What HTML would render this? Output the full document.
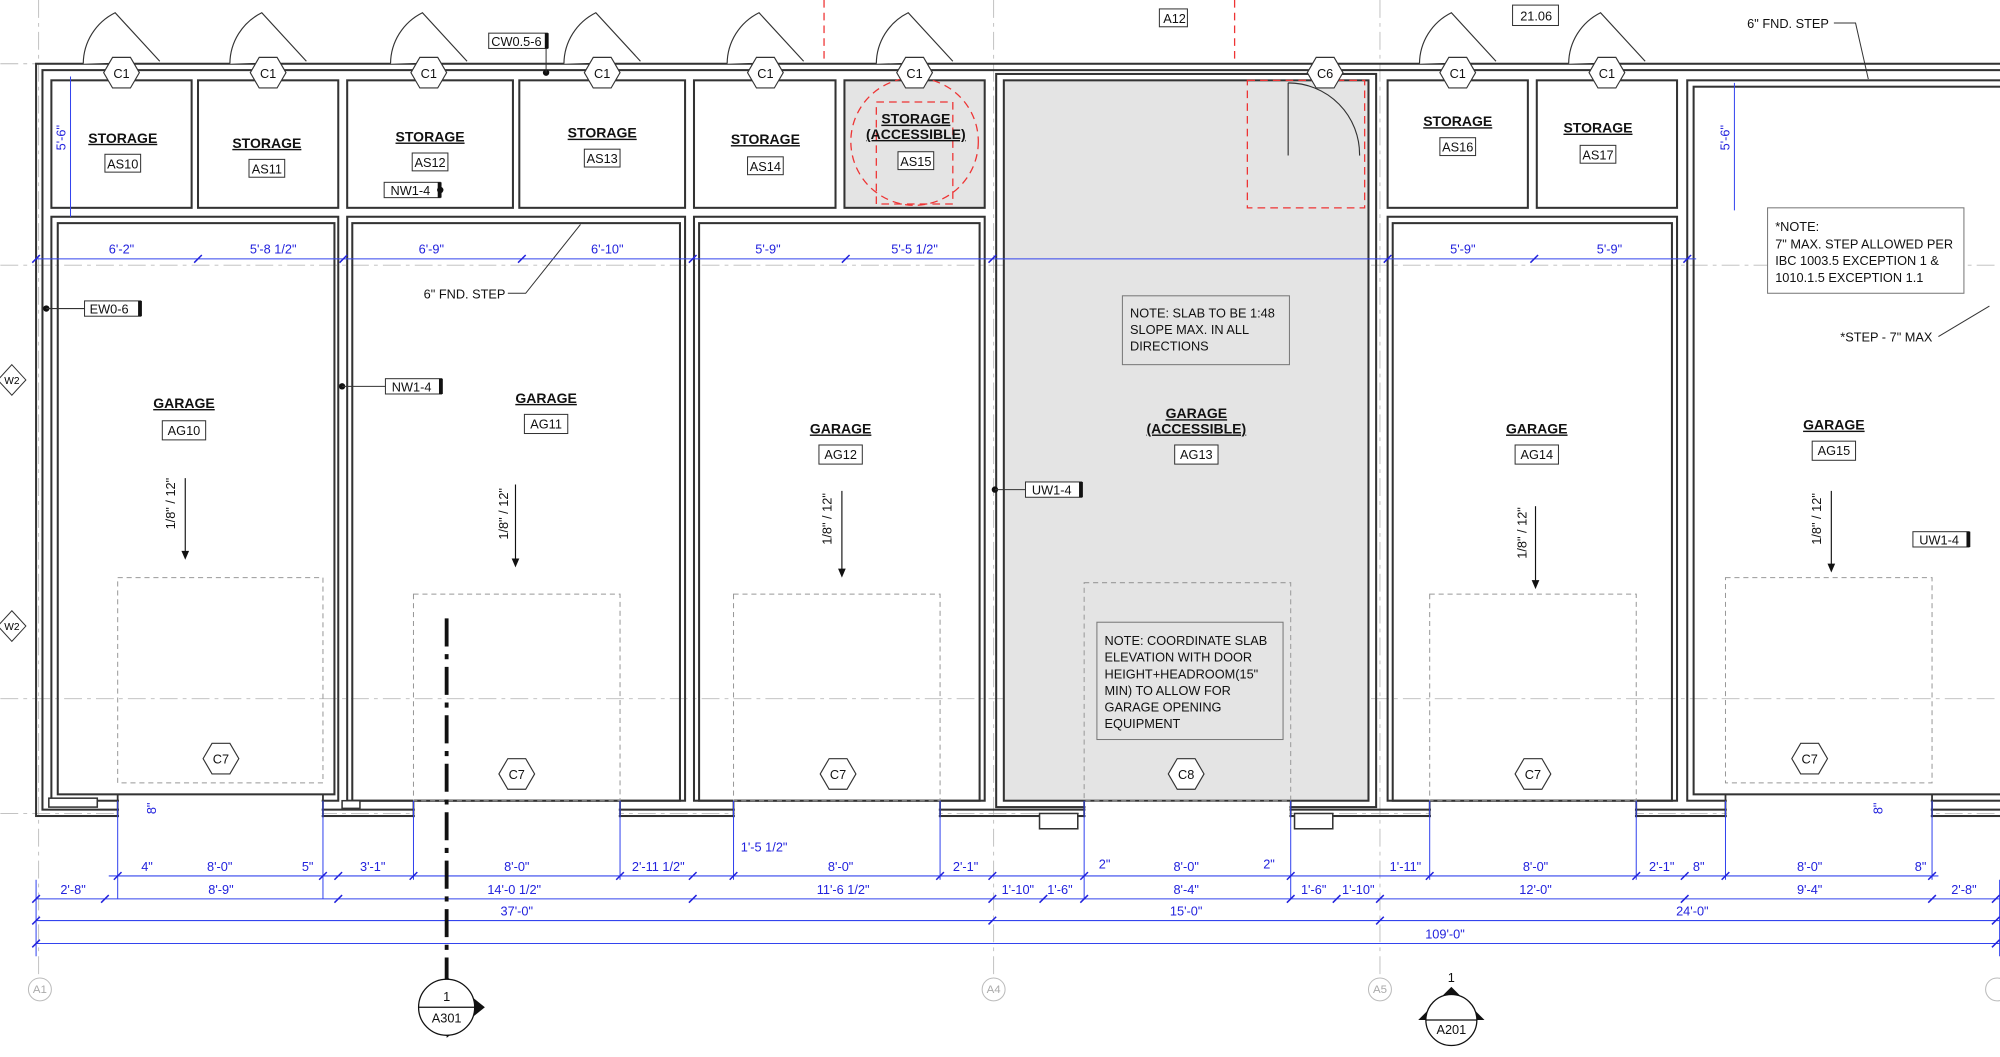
<!DOCTYPE html>
<html><head><meta charset="utf-8"><style>
html,body{margin:0;padding:0;background:#fff;}
svg{display:block;}
text{font-family:"Liberation Sans",sans-serif;}
.w{fill:none;stroke:#333;stroke-width:1.6}
.b{fill:#2222dd;font-size:10px;text-anchor:middle}
.bl{stroke:#3344ee;stroke-width:0.8;fill:none}
.g{stroke:#bbb;stroke-width:0.7;stroke-dasharray:14 4 3 4;fill:none}
.d{stroke:#999;stroke-width:0.8;stroke-dasharray:4 3;fill:none}
.rn{font-size:11px;font-weight:bold;text-anchor:middle;text-decoration:underline;fill:#111}
.tag{fill:#fff;stroke:#333;stroke-width:0.8}
.t{font-size:10px;text-anchor:middle;fill:#111}
.n{font-size:10px;fill:#111}
</style></head><body>
<svg width="2000" height="1057" viewBox="0 0 1568 829" xmlns="http://www.w3.org/2000/svg">
<defs>
<g id="hex"><polygon points="-14,0 -7,-12 7,-12 14,0 7,12 -7,12" fill="#fff" stroke="#333" stroke-width="0.9"/></g>
</defs>
<line class="g" x1="0" y1="50" x2="1568" y2="50"/>
<line class="g" x1="0" y1="208" x2="1568" y2="208"/>
<line class="g" x1="0" y1="548" x2="1568" y2="548"/>
<line class="g" x1="0" y1="638" x2="1568" y2="638"/>
<line class="g" x1="30" y1="0" x2="30" y2="765"/>
<line class="g" x1="779" y1="0" x2="779" y2="765"/>
<line class="g" x1="1082" y1="0" x2="1082" y2="765"/>
<rect x="662" y="63" width="110" height="100" fill="#e4e4e4"/>
<rect x="787" y="63" width="286" height="565" fill="#e4e4e4"/>
<rect class="w" x="28" y="50" width="1545" height="590"/>
<rect class="w" x="33" y="55" width="1540" height="580"/>
<g class="w">
<rect x="40" y="63" width="110" height="100"/><rect x="155" y="63" width="110" height="100"/>
<rect x="272" y="63" width="130" height="100"/><rect x="407" y="63" width="130" height="100"/>
<rect x="544" y="63" width="111" height="100"/><rect x="662" y="63" width="110" height="100"/>
<rect x="1088" y="63" width="110" height="100"/><rect x="1205" y="63" width="110" height="100"/>
<rect x="40" y="170" width="225" height="458"/><rect x="45" y="175" width="217" height="448"/>
<rect x="272" y="170" width="265" height="458"/><rect x="276" y="175" width="257" height="453"/>
<rect x="544" y="170" width="228" height="458"/><rect x="548" y="175" width="220" height="453"/>
<rect x="787" y="63" width="286" height="565"/><rect x="781" y="58" width="298" height="575"/>
<rect x="1088" y="170" width="227" height="458"/><rect x="1092" y="175" width="219" height="453"/>
<rect x="1323" y="63" width="250" height="565"/><rect x="1328" y="68" width="245" height="555"/>
</g>
<!-- bottom openings: gaps in wall with jambs -->
<g fill="#fff" stroke="none">
<rect x="93" y="624" width="159" height="18"/><rect x="325" y="629" width="160" height="13"/>
<rect x="576" y="629" width="160" height="13"/><rect x="851" y="629" width="160" height="13"/>
<rect x="1122" y="629" width="160" height="13"/><rect x="1354" y="624" width="160" height="18"/>
</g>
<g stroke="#333" stroke-width="1.4">
<path d="M92 623 V641 M253 623 V641 M324 628 V641 M486 628 V641 M575 628 V641 M737 628 V641 M850 628 V641 M1012 628 V641 M1121 628 V641 M1283 628 V641 M1353 623 V641 M1515 623 V641"/>
</g>
<g fill="#fff" stroke="#333" stroke-width="1.2">
<rect x="815" y="638" width="30" height="12"/><rect x="1015" y="638" width="30" height="12"/>
<rect x="38" y="626" width="38" height="7"/><rect x="268" y="628" width="14" height="6"/>
</g>
<g fill="#fff" stroke="#333" stroke-width="0.9">
<path d="M65 50 A45 45 0 0 1 90 10 L125 48"/><path d="M180 50 A45 45 0 0 1 205 10 L240 48"/>
<path d="M306 50 A45 45 0 0 1 331 10 L366 48"/><path d="M442 50 A45 45 0 0 1 467 10 L502 48"/>
<path d="M570 50 A45 45 0 0 1 595 10 L630 48"/><path d="M687 50 A45 45 0 0 1 712 10 L747 48"/>
<path d="M1113 50 A45 45 0 0 1 1138 10 L1173 48"/><path d="M1230 50 A45 45 0 0 1 1255 10 L1290 48"/>
<path d="M1010 65 L1010 122 M1066 122 A56 56 0 0 0 1010 65" fill="none"/>
</g>
<g stroke="#e33" stroke-width="1" stroke-dasharray="6 4" fill="none">
<line x1="646" y1="0" x2="646" y2="50"/><line x1="968" y1="0" x2="968" y2="50"/>
<circle cx="717" cy="111" r="50"/><rect x="687" y="80" width="60" height="80"/>
<rect x="978" y="63" width="92" height="100"/>
</g>
<g font-size="10">
<use href="#hex" x="95" y="57"/><text class="t" x="95" y="61">C1</text>
<use href="#hex" x="210" y="57"/><text class="t" x="210" y="61">C1</text>
<use href="#hex" x="336" y="57"/><text class="t" x="336" y="61">C1</text>
<use href="#hex" x="472" y="57"/><text class="t" x="472" y="61">C1</text>
<use href="#hex" x="600" y="57"/><text class="t" x="600" y="61">C1</text>
<use href="#hex" x="717" y="57"/><text class="t" x="717" y="61">C1</text>
<use href="#hex" x="1039" y="57"/><text class="t" x="1039" y="61">C6</text>
<use href="#hex" x="1143" y="57"/><text class="t" x="1143" y="61">C1</text>
<use href="#hex" x="1260" y="57"/><text class="t" x="1260" y="61">C1</text>
<use href="#hex" x="173" y="595"/><text class="t" x="173" y="599">C7</text>
<use href="#hex" x="405" y="607"/><text class="t" x="405" y="611">C7</text>
<use href="#hex" x="657" y="607"/><text class="t" x="657" y="611">C7</text>
<use href="#hex" x="930" y="607"/><text class="t" x="930" y="611">C8</text>
<use href="#hex" x="1202" y="607"/><text class="t" x="1202" y="611">C7</text>
<use href="#hex" x="1419" y="595"/><text class="t" x="1419" y="599">C7</text>
</g>
<g>
<text class="rn" x="96" y="112">STORAGE</text><rect class="tag" x="82" y="121" width="28" height="14"/><text class="t" x="96" y="132">AS10</text>
<text class="rn" x="209" y="116">STORAGE</text><rect class="tag" x="195" y="125" width="28" height="14"/><text class="t" x="209" y="136">AS11</text>
<text class="rn" x="337" y="111">STORAGE</text><rect class="tag" x="323" y="120" width="28" height="14"/><text class="t" x="337" y="131">AS12</text>
<text class="rn" x="472" y="108">STORAGE</text><rect class="tag" x="458" y="117" width="28" height="14"/><text class="t" x="472" y="128">AS13</text>
<text class="rn" x="600" y="113">STORAGE</text><rect class="tag" x="586" y="123" width="28" height="14"/><text class="t" x="600" y="134">AS14</text>
<text class="rn" x="718" y="97">STORAGE</text><text class="rn" x="718" y="109">(ACCESSIBLE)</text><rect class="tag" x="704" y="119" width="28" height="14"/><text class="t" x="718" y="130">AS15</text>
<text class="rn" x="1143" y="99">STORAGE</text><rect class="tag" x="1129" y="108" width="28" height="14"/><text class="t" x="1143" y="119">AS16</text>
<text class="rn" x="1253" y="104">STORAGE</text><rect class="tag" x="1239" y="114" width="28" height="14"/><text class="t" x="1253" y="125">AS17</text>
<text class="rn" x="144" y="320">GARAGE</text><rect class="tag" x="127" y="330" width="34" height="15"/><text class="t" x="144" y="341">AG10</text>
<text class="rn" x="428" y="316">GARAGE</text><rect class="tag" x="411" y="325" width="34" height="15"/><text class="t" x="428" y="336">AG11</text>
<text class="rn" x="659" y="340">GARAGE</text><rect class="tag" x="642" y="349" width="34" height="15"/><text class="t" x="659" y="360">AG12</text>
<text class="rn" x="938" y="328">GARAGE</text><text class="rn" x="938" y="340">(ACCESSIBLE)</text><rect class="tag" x="921" y="349" width="34" height="15"/><text class="t" x="938" y="360">AG13</text>
<text class="rn" x="1205" y="340">GARAGE</text><rect class="tag" x="1188" y="349" width="34" height="15"/><text class="t" x="1205" y="360">AG14</text>
<text class="rn" x="1438" y="337">GARAGE</text><rect class="tag" x="1421" y="346" width="34" height="15"/><text class="t" x="1438" y="357">AG15</text>
</g>
<g font-size="10" fill="#111" stroke="none">
<text transform="translate(137,395) rotate(-90)" text-anchor="middle">1/8" / 12"</text>
<text transform="translate(398,403) rotate(-90)" text-anchor="middle">1/8" / 12"</text>
<text transform="translate(652,407) rotate(-90)" text-anchor="middle">1/8" / 12"</text>
<text transform="translate(1197,418) rotate(-90)" text-anchor="middle">1/8" / 12"</text>
<text transform="translate(1428,407) rotate(-90)" text-anchor="middle">1/8" / 12"</text>
</g>
<g stroke="#111" stroke-width="0.9">
<line x1="145" y1="375" x2="145" y2="437"/><line x1="404" y1="380" x2="404" y2="443"/>
<line x1="660" y1="385" x2="660" y2="451"/><line x1="1204" y1="397" x2="1204" y2="460"/>
<line x1="1436" y1="385" x2="1436" y2="447"/>
</g>
<g fill="#111"><path d="M142 432 L145 439 L148 432Z"/><path d="M401 438 L404 445 L407 438Z"/><path d="M657 446 L660 453 L663 446Z"/><path d="M1201 455 L1204 462 L1207 455Z"/><path d="M1433 442 L1436 449 L1439 442Z"/></g>
<rect class="d" x="92" y="453" width="161" height="161"/><rect class="d" x="324" y="466" width="162" height="162"/>
<rect class="d" x="575" y="466" width="162" height="162"/><rect class="d" x="850" y="457" width="162" height="171"/>
<rect class="d" x="1121" y="466" width="162" height="162"/><rect class="d" x="1353" y="453" width="162" height="161"/>
<rect x="880" y="232" width="131" height="54" fill="#e4e4e4" stroke="#777" stroke-width="0.8"/>
<text class="n" x="886" y="249">NOTE: SLAB TO BE 1:48</text><text class="n" x="886" y="262">SLOPE MAX. IN ALL</text><text class="n" x="886" y="275">DIRECTIONS</text>
<rect x="860" y="488" width="146" height="92" fill="#e4e4e4" stroke="#777" stroke-width="0.8"/>
<text class="n" x="866" y="506">NOTE: COORDINATE SLAB</text><text class="n" x="866" y="519">ELEVATION WITH DOOR</text><text class="n" x="866" y="532">HEIGHT+HEADROOM(15"</text><text class="n" x="866" y="545">MIN) TO ALLOW FOR</text><text class="n" x="866" y="558">GARAGE OPENING</text><text class="n" x="866" y="571">EQUIPMENT</text>
<rect x="1386" y="163" width="154" height="67" fill="#fff" stroke="#777" stroke-width="0.8"/>
<text class="n" x="1392" y="181">*NOTE:</text><text class="n" x="1392" y="195">7" MAX. STEP ALLOWED PER</text><text class="n" x="1392" y="208">IBC 1003.5 EXCEPTION 1 &amp;</text><text class="n" x="1392" y="221">1010.1.5 EXCEPTION 1.1</text>
<text class="n" x="1443" y="268">*STEP - 7" MAX</text><line x1="1520" y1="264" x2="1560" y2="240" stroke="#333" stroke-width="0.8"/>
<text class="n" x="1370" y="22">6" FND. STEP</text><path d="M1438 18 L1455 18 L1465 62" stroke="#333" fill="none" stroke-width="0.8"/>
<text class="n" x="332" y="234">6" FND. STEP</text><path d="M398 230 L412 230 L455 176" stroke="#333" fill="none" stroke-width="0.8"/>
<g font-size="10" fill="#111">
<rect class="tag" x="383" y="26" width="46" height="12"/><text x="385" y="36">CW0.5-6</text>
<rect class="tag" x="301" y="143" width="44" height="12"/><text x="306" y="153">NW1-4</text>
<rect class="tag" x="66" y="236" width="44" height="12"/><text x="70" y="246">EW0-6</text>
<rect class="tag" x="302" y="297" width="44" height="12"/><text x="307" y="307">NW1-4</text>
<rect class="tag" x="804" y="378" width="44" height="12"/><text x="809" y="388">UW1-4</text>
<rect class="tag" x="1500" y="417" width="44" height="12"/><text x="1505" y="427">UW1-4</text>
<rect class="tag" x="909" y="7" width="22" height="14"/><text x="912" y="18">A12</text>
<rect class="tag" x="1186" y="4" width="36" height="16"/><text x="1192" y="16">21.06</text>
</g>
<g fill="#111"><circle cx="428" cy="57" r="2.5"/><circle cx="345" cy="149" r="2.5"/><circle cx="36" cy="242" r="2.5"/><circle cx="268" cy="303" r="2.5"/><circle cx="780" cy="384" r="2.5"/>
<rect x="427" y="26" width="3" height="12"/><rect x="343" y="143" width="3" height="12"/><rect x="108" y="236" width="3" height="12"/><rect x="344" y="297" width="3" height="12"/><rect x="846" y="378" width="3" height="12"/><rect x="1542" y="417" width="3" height="12"/></g>
<g stroke="#333" stroke-width="0.8"><line x1="428" y1="38" x2="428" y2="57"/><line x1="66" y1="242" x2="36" y2="242"/><line x1="302" y1="303" x2="268" y2="303"/><line x1="804" y1="384" x2="780" y2="384"/></g>
<g font-size="8" text-anchor="middle">
<polygon points="9,286 20,298 9,310 -2,298" fill="#fff" stroke="#333" stroke-width="0.8"/><text x="9" y="301">W2</text>
<polygon points="9,479 20,491 9,503 -2,491" fill="#fff" stroke="#333" stroke-width="0.8"/><text x="9" y="494">W2</text>
</g>
<g class="bl">
<line x1="28" y1="203" x2="1330" y2="203"/>
<line x1="85" y1="687" x2="1520" y2="687"/>
<line x1="28" y1="705" x2="1568" y2="705"/>
<line x1="28" y1="722" x2="1568" y2="722"/>
<line x1="28" y1="740" x2="1568" y2="740"/>
<line x1="55" y1="60" x2="55" y2="170"/><line x1="1360" y1="65" x2="1360" y2="165"/>
<line x1="92" y1="628" x2="92" y2="705"/><line x1="253" y1="628" x2="253" y2="705"/><line x1="324" y1="628" x2="324" y2="690"/><line x1="486" y1="628" x2="486" y2="690"/>
<line x1="575" y1="628" x2="575" y2="690"/><line x1="737" y1="628" x2="737" y2="690"/><line x1="850" y1="628" x2="850" y2="705"/><line x1="1012" y1="628" x2="1012" y2="705"/>
<line x1="1121" y1="628" x2="1121" y2="690"/><line x1="1283" y1="628" x2="1283" y2="690"/><line x1="1353" y1="628" x2="1353" y2="690"/><line x1="1515" y1="628" x2="1515" y2="690"/>
<line x1="28" y1="690" x2="28" y2="750"/><line x1="1568" y1="690" x2="1568" y2="750"/>
</g>
<g stroke="#2222dd" stroke-width="1.2">
<path d="M25 206 l6 -6 M152 206 l6 -6 M266 206 l6 -6 M406 206 l6 -6 M540 206 l6 -6 M660 206 l6 -6 M775 206 l6 -6 M1085 206 l6 -6 M1200 206 l6 -6 M1320 206 l6 -6"/>
<path d="M89 690 l6 -6 M250 690 l6 -6 M262 690 l6 -6 M321 690 l6 -6 M483 690 l6 -6 M540 690 l6 -6 M572 690 l6 -6 M734 690 l6 -6 M775 690 l6 -6 M847 690 l6 -6 M1009 690 l6 -6 M1118 690 l6 -6 M1280 690 l6 -6 M1318 690 l6 -6 M1350 690 l6 -6 M1512 690 l6 -6"/>
<path d="M25 708 l6 -6 M79 708 l6 -6 M262 708 l6 -6 M540 708 l6 -6 M775 708 l6 -6 M815 708 l6 -6 M847 708 l6 -6 M1009 708 l6 -6 M1045 708 l6 -6 M1079 708 l6 -6 M1318 708 l6 -6 M1512 708 l6 -6 M1562 708 l6 -6"/>
<path d="M25 725 l6 -6 M775 725 l6 -6 M1079 725 l6 -6 M1562 725 l6 -6 M25 743 l6 -6 M1562 743 l6 -6"/>
</g>
<g>
<text class="b" x="95" y="199">6'-2"</text><text class="b" x="214" y="199">5'-8 1/2"</text><text class="b" x="338" y="199">6'-9"</text><text class="b" x="476" y="199">6'-10"</text>
<text class="b" x="602" y="199">5'-9"</text><text class="b" x="717" y="199">5'-5 1/2"</text><text class="b" x="1147" y="199">5'-9"</text><text class="b" x="1262" y="199">5'-9"</text>
<text class="b" transform="translate(51,108) rotate(-90)">5'-6"</text><text class="b" transform="translate(1356,108) rotate(-90)">5'-6"</text>
<text class="b" transform="translate(122,634) rotate(-90)">8"</text><text class="b" transform="translate(1476,634) rotate(-90)">8"</text>
<text class="b" x="115" y="683">4"</text><text class="b" x="172" y="683">8'-0"</text><text class="b" x="241" y="683">5"</text><text class="b" x="292" y="683">3'-1"</text>
<text class="b" x="405" y="683">8'-0"</text><text class="b" x="516" y="683">2'-11 1/2"</text><text class="b" x="599" y="668">1'-5 1/2"</text><text class="b" x="659" y="683">8'-0"</text><text class="b" x="757" y="683">2'-1"</text>
<text class="b" x="866" y="681">2"</text><text class="b" x="930" y="683">8'-0"</text><text class="b" x="995" y="681">2"</text><text class="b" x="1102" y="683">1'-11"</text>
<text class="b" x="1204" y="683">8'-0"</text><text class="b" x="1303" y="683">2'-1"</text><text class="b" x="1332" y="683">8"</text><text class="b" x="1419" y="683">8'-0"</text><text class="b" x="1506" y="683">8"</text>
<text class="b" x="57" y="701">2'-8"</text><text class="b" x="173" y="701">8'-9"</text><text class="b" x="403" y="701">14'-0 1/2"</text><text class="b" x="661" y="701">11'-6 1/2"</text>
<text class="b" x="798" y="701">1'-10"</text><text class="b" x="831" y="701">1'-6"</text><text class="b" x="930" y="701">8'-4"</text><text class="b" x="1030" y="701">1'-6"</text><text class="b" x="1065" y="701">1'-10"</text>
<text class="b" x="1204" y="701">12'-0"</text><text class="b" x="1419" y="701">9'-4"</text><text class="b" x="1540" y="701">2'-8"</text>
<text class="b" x="405" y="718">37'-0"</text><text class="b" x="930" y="718">15'-0"</text><text class="b" x="1327" y="718">24'-0"</text>
<text class="b" x="1133" y="736">109'-0"</text>
</g>
<g fill="#fff" stroke="#bbb" stroke-width="0.8"><circle cx="31" cy="776" r="9"/><circle cx="779" cy="776" r="9"/><circle cx="1082" cy="776" r="9"/><circle cx="1566" cy="776" r="9"/></g>
<g font-size="9" fill="#aaa" text-anchor="middle"><text x="31" y="779">A1</text><text x="779" y="779">A4</text><text x="1082" y="779">A5</text></g>
<line x1="350" y1="485" x2="350" y2="770" stroke="#111" stroke-width="3" stroke-dasharray="22 6 4 6"/>
<path d="M350 766 L380 790 L350 814Z" fill="#111"/>
<circle cx="350" cy="790" r="22" fill="#fff" stroke="#111" stroke-width="1"/>
<line x1="328" y1="790" x2="372" y2="790" stroke="#111"/>
<text class="t" x="350" y="785">1</text><text class="t" x="350" y="802">A301</text>
<path d="M1112 800 L1138 774 L1164 800Z" fill="#111"/>
<circle cx="1138" cy="800" r="20" fill="#fff" stroke="#111" stroke-width="1"/>
<line x1="1118" y1="800" x2="1158" y2="800" stroke="#111"/>
<text class="t" x="1138" y="770">1</text><text class="t" x="1138" y="811">A201</text>
</svg>
</body></html>
